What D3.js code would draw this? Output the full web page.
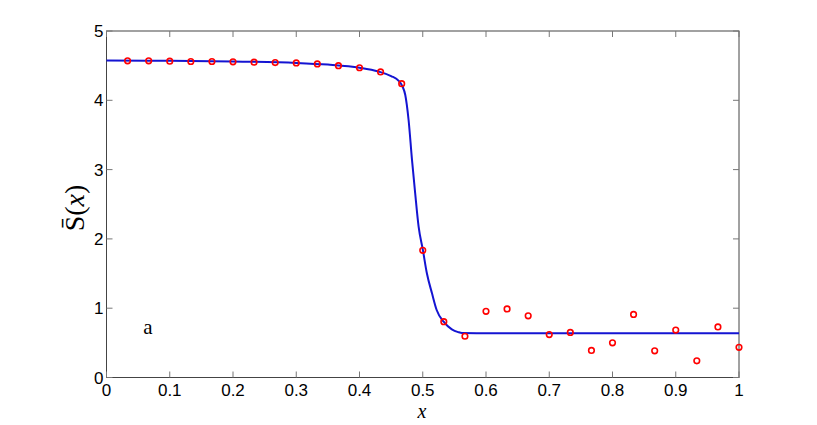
<!DOCTYPE html>
<html><head><meta charset="utf-8">
<script src="https://cdn.jsdelivr.net/npm/d3@7"></script>
<style>body{margin:0;background:#fff}svg{display:block}</style>
</head><body>
<svg id="c" width="817" height="425"></svg>
<script>
const xTicks = [0,0.1,0.2,0.3,0.4,0.5,0.6,0.7,0.8,0.9,1];
const xTickLabels = ["0","0.1","0.2","0.3","0.4","0.5","0.6","0.7","0.8","0.9","1"];
const yTicks = [0,1,2,3,4,5];
const yTickLabels = ["0","1","2","3","4","5"];
const pointX = [0.0333,0.0667,0.1,0.1333,0.1667,0.2,0.2333,0.2667,0.3,0.3333,0.3667,0.4,0.4333,0.4667,0.5,0.5333,0.5667,0.6,0.6333,0.6667,0.7,0.7333,0.7667,0.8,0.8333,0.8667,0.9,0.9333,0.9667,1.0];
const pointY = [4.57,4.57,4.565,4.56,4.56,4.555,4.55,4.545,4.54,4.525,4.50,4.47,4.41,4.24,1.835,0.805,0.595,0.955,0.99,0.89,0.62,0.65,0.39,0.50,0.91,0.385,0.685,0.24,0.73,0.435];
const curveX = [0,0.1,0.2,0.3,0.35,0.4,0.43,0.45,0.462,0.468,0.4723,0.4776,0.483,0.488,0.4934,0.5003,0.5066,0.5146,0.522,0.533,0.546,0.556,0.562,0.6,0.8,1.0];
const curveY = [4.575,4.57,4.56,4.54,4.515,4.47,4.415,4.35,4.28,4.2,4.08,3.716,3.14,2.66,2.18,1.835,1.50,1.215,0.974,0.805,0.695,0.655,0.642,0.64,0.64,0.64];

const svg = d3.select("#c");
const L=106.5, R=739, T=31, B=377.5;
const x = d3.scaleLinear().domain([0,1]).range([L,R]);
const y = d3.scaleLinear().domain([0,5]).range([B,T]);

const g = svg.append("g");
g.append("rect").attr("x",L).attr("y",T).attr("width",R-L).attr("height",B-T)
 .attr("fill","none").attr("stroke","#444").attr("stroke-width",1);

const tickCol="#777", tl=6;
xTicks.forEach(t=>{
  g.append("line").attr("x1",x(t)).attr("x2",x(t)).attr("y1",B).attr("y2",B-tl).attr("stroke",tickCol);
  g.append("line").attr("x1",x(t)).attr("x2",x(t)).attr("y1",T).attr("y2",T+tl).attr("stroke",tickCol);
});
yTicks.forEach(t=>{
  g.append("line").attr("y1",y(t)).attr("y2",y(t)).attr("x1",L).attr("x2",L+tl).attr("stroke",tickCol);
  g.append("line").attr("y1",y(t)).attr("y2",y(t)).attr("x1",R).attr("x2",R-tl).attr("stroke",tickCol);
});
const font="'Liberation Sans', Arial, sans-serif";
g.selectAll(".xt").data(xTicks).enter().append("text")
 .attr("x",d=>x(d)).attr("y",B+18.5).attr("text-anchor","middle")
 .attr("font-family",font).attr("font-size",17).attr("fill","#000")
 .text((d,i)=>xTickLabels[i]);
g.selectAll(".yt").data(yTicks).enter().append("text")
 .attr("x",L-3).attr("y",d=>y(d)+6).attr("text-anchor","end")
 .attr("font-family",font).attr("font-size",17).attr("fill","#000")
 .text((d,i)=>yTickLabels[i]);

const line = d3.line().x((d,i)=>x(curveX[i])).y((d,i)=>y(curveY[i])).curve(d3.curveMonotoneX);
g.append("path").datum(curveX).attr("d",line).attr("fill","none")
 .attr("stroke","#1414d2").attr("stroke-width",2);

g.selectAll(".pt").data(pointX).enter().append("circle")
 .attr("cx",d=>x(d)).attr("cy",(d,i)=>y(pointY[i])).attr("r",2.8)
 .attr("fill","none").attr("stroke","#ff0000").attr("stroke-width",1.6);

const yl = g.append("text").attr("transform","translate(84,208) rotate(-90)")
 .attr("text-anchor","middle").attr("font-family","'Liberation Serif',serif").attr("font-size",28);
yl.append("tspan").text("S\u0304");
yl.append("tspan").text("(");
yl.append("tspan").attr("font-style","italic").text("x");
yl.append("tspan").text(")");

g.append("text").attr("x",422).attr("y",417.5).attr("text-anchor","middle")
 .attr("font-family","'Liberation Serif',serif").attr("font-style","italic").attr("font-size",20).text("x");
g.append("text").attr("x",148).attr("y",334).attr("text-anchor","middle")
 .attr("font-family","'Liberation Serif',serif").attr("font-size",21).text("a");
</script>
</body></html>
